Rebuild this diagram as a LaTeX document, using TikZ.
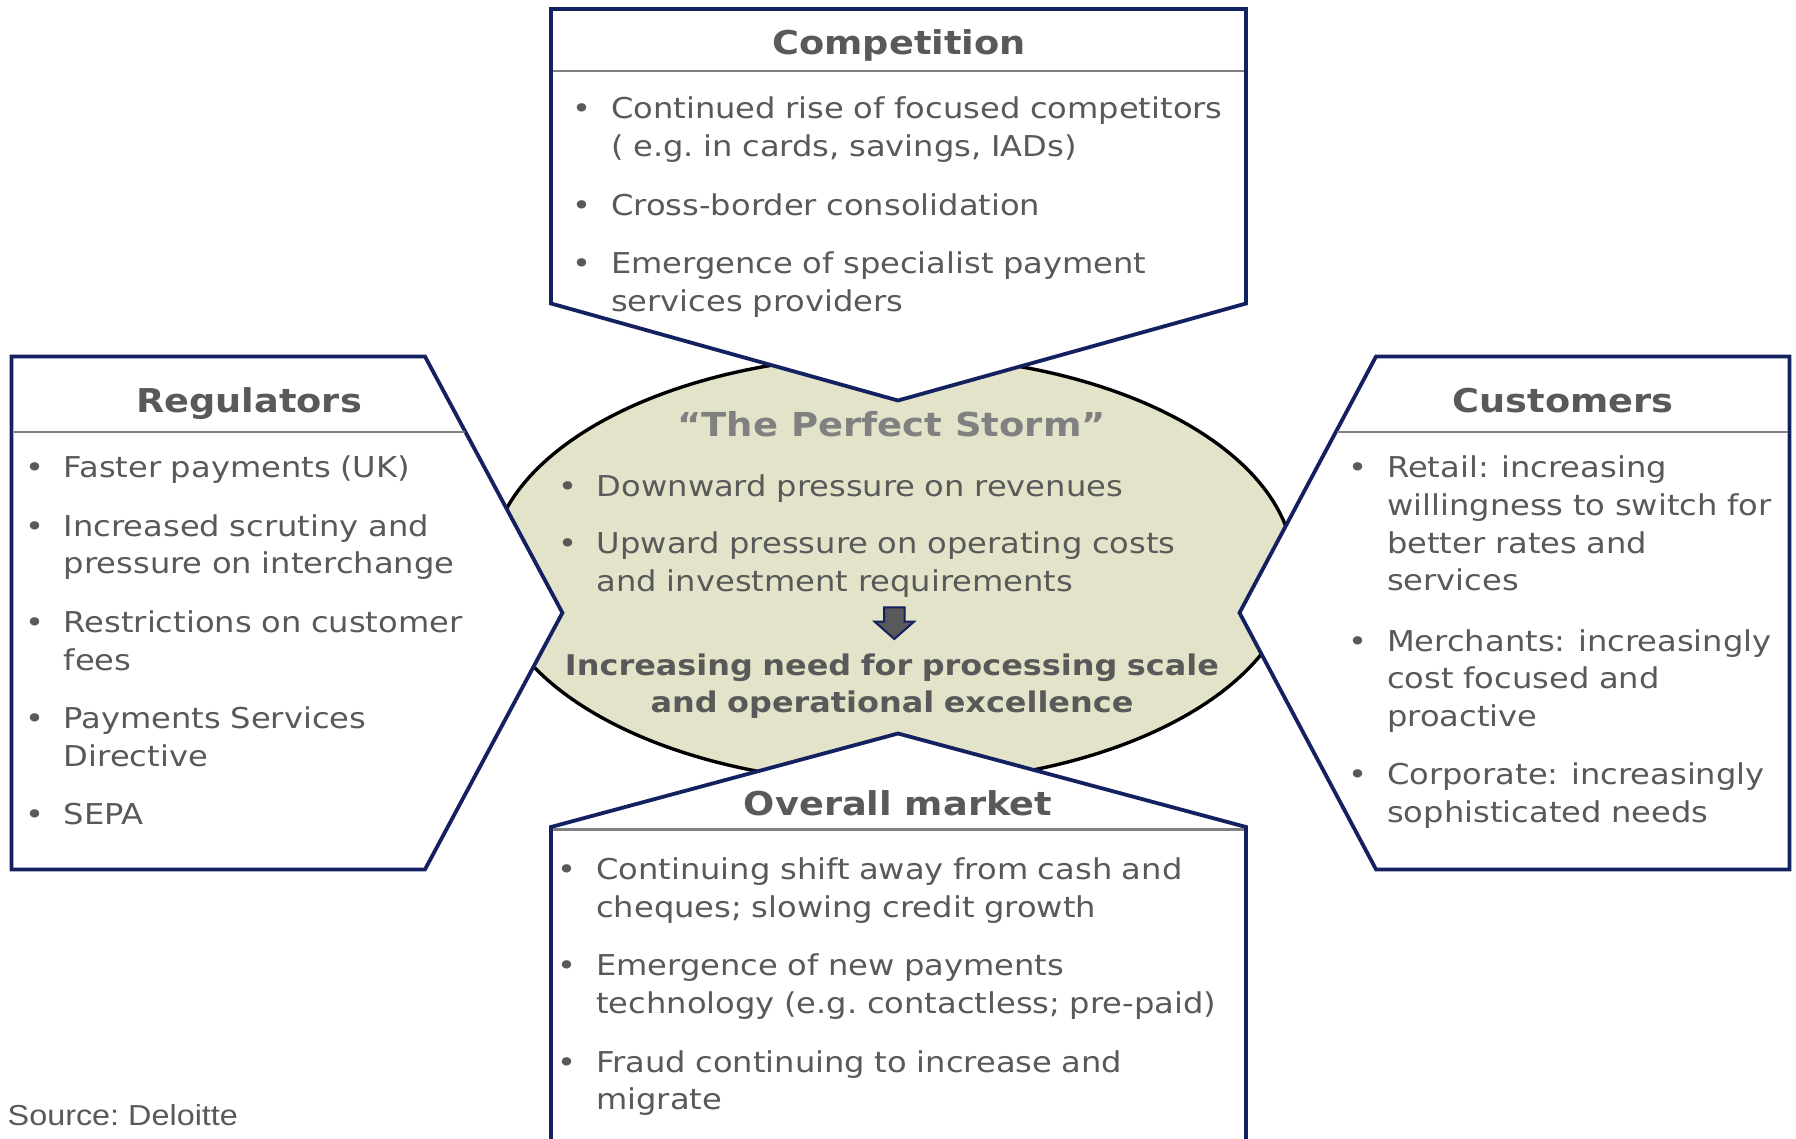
\documentclass[tikz,border=0pt]{standalone}
\usepackage{fontspec}
\setmainfont{DejaVu Sans}[FakeStretch=1.12]
\newfontfamily\srcfont{Liberation Sans}[FakeStretch=1.12]
\definecolor{navy}{RGB}{20,33,96}
\definecolor{txtgray}{RGB}{89,89,89}
\definecolor{sepgray}{RGB}{128,128,128}
\definecolor{stormgray}{RGB}{128,128,128}
\definecolor{beige}{RGB}{227,227,201}
\newcommand\itembul{\llap{\makebox[0pt]{•}\hspace{29pt}}}
\newcommand\colsp{:\hspace{3pt}\ }
\frenchspacing
\begin{document}
\begin{tikzpicture}[x=1pt,y=-1pt,
  panel/.style={draw=navy,line width=3.8pt,fill=white},
  sepline/.style={draw=sepgray,line width=2.3pt},
  itm/.style={anchor=base west,inner sep=0pt,text width=720pt,align=left,text=txtgray,font=\fontsize{28.7}{37.8}\selectfont},
  ttl/.style={anchor=base,inner sep=0pt,text=txtgray,font=\fontsize{32.8}{40}\selectfont\bfseries},
  strong/.style={anchor=base,inner sep=0pt,text width=720pt,align=center,text=txtgray,font=\fontsize{28.5}{37}\selectfont\bfseries},
]
\useasboundingbox (0,0) rectangle (1796,1139);
\fill[white] (0,0) rectangle (1796,1139);
\begin{scope}
\clip (0,0) rectangle (1796,1139);
% central ellipse
\draw[fill=beige,draw=black,line width=3.4pt] (892,569.5) ellipse [x radius=402,y radius=214];
% Competition panel
\draw[panel] (551,9) -- (1246,9) -- (1246,303.5) -- (898,400.5) -- (551,303.5) -- cycle;
\draw[sepline] (553,71) -- (1244,71);
% Regulators panel
\draw[panel] (11.5,356.5) -- (425,356.5) -- (562.4,612.8) -- (425,869.4) -- (11.5,869.4) -- cycle;
\draw[sepline] (13.5,431.8) -- (465,431.8);
% Customers panel
\draw[panel] (1789.5,356.5) -- (1376,356.5) -- (1239.5,612.8) -- (1376,869.4) -- (1789.5,869.4) -- cycle;
\draw[sepline] (1336.5,431.8) -- (1787.5,431.8);
% Overall market panel
\draw[panel] (898,733.5) -- (1246,827) -- (1246,1170) -- (551,1170) -- (551,827) -- cycle;
\draw[sepline] (553,829.5) -- (1244,829.5);
\end{scope}

% Titles
\node[ttl] (tcomp) at (899,54.5) {Competition};
\node[ttl] (treg) at (249,412.5) {Regulators};
\node[ttl] (tcust) at (1563,412.5) {Customers};
\node[ttl] (tmkt) at (898,815) {Overall market};
\node[ttl,text=stormgray,font=\fontsize{33}{40}\selectfont\bfseries] (tstorm) at (891.7,436.7) {“The Perfect Storm”};

% Competition items
\node[itm] (c1) at (611,119) {\itembul Continued rise of focused competitors\\( e.g. in cards, savings, IADs)};
\node[itm] (c2) at (611,215.2) {\itembul Cross-border consolidation};
\node[itm] (c3) at (611,273.5) {\itembul Emergence of specialist payment\\services providers};

% Regulators items
\node[itm] (r1) at (63.6,477) {\itembul Faster payments (UK)};
\node[itm] (r2) at (63.6,536) {\itembul Increased scrutiny and\\pressure on interchange};
\node[itm] (r3) at (63.6,632.4) {\itembul Restrictions on customer\\fees};
\node[itm] (r4) at (63.6,728.4) {\itembul Payments Services\\Directive};
\node[itm] (r5) at (63.6,824.2) {\itembul SEPA};

% Customers items
\node[itm] (u1) at (1387,477.5) {\itembul Retail\colsp increasing\\willingness to switch for\\better rates and\\services};
\node[itm] (u2) at (1387,651) {\itembul Merchants\colsp increasingly\\cost focused and\\proactive};
\node[itm] (u3) at (1387,784.8) {\itembul Corporate\colsp increasingly\\sophisticated needs};

% Overall market items
\node[itm] (o1) at (596,879.4) {\itembul Continuing shift away from cash and\\cheques; slowing credit growth};
\node[itm] (o2) at (596,975.3) {\itembul Emergence of new payments\\technology (e.g. contactless; pre-paid)};
\node[itm] (o3) at (596,1072) {\itembul Fraud continuing to increase and\\migrate};

% Ellipse content
\node[itm] (e1) at (596.7,496) {\itembul Downward pressure on revenues};
\node[itm] (e2) at (596.7,553.6) {\itembul Upward pressure on operating costs\\and investment requirements};
\draw[fill=txtgray,draw=navy,line width=2pt,line join=miter]
  (884,607.3) -- (904.7,607.3) -- (904.7,621.7) -- (914,621.7) -- (894.3,639)
  -- (874.7,621.7) -- (884,621.7) -- cycle;
\node[strong] (need) at (892,675) {Increasing need for processing scale\\and operational excellence};

% Source
\node[anchor=base west,inner sep=0pt,text=txtgray,font=\srcfont\fontsize{28.9}{34}\selectfont] (src) at (7.5,1125) {Source: Deloitte};
\end{tikzpicture}
\end{document}
